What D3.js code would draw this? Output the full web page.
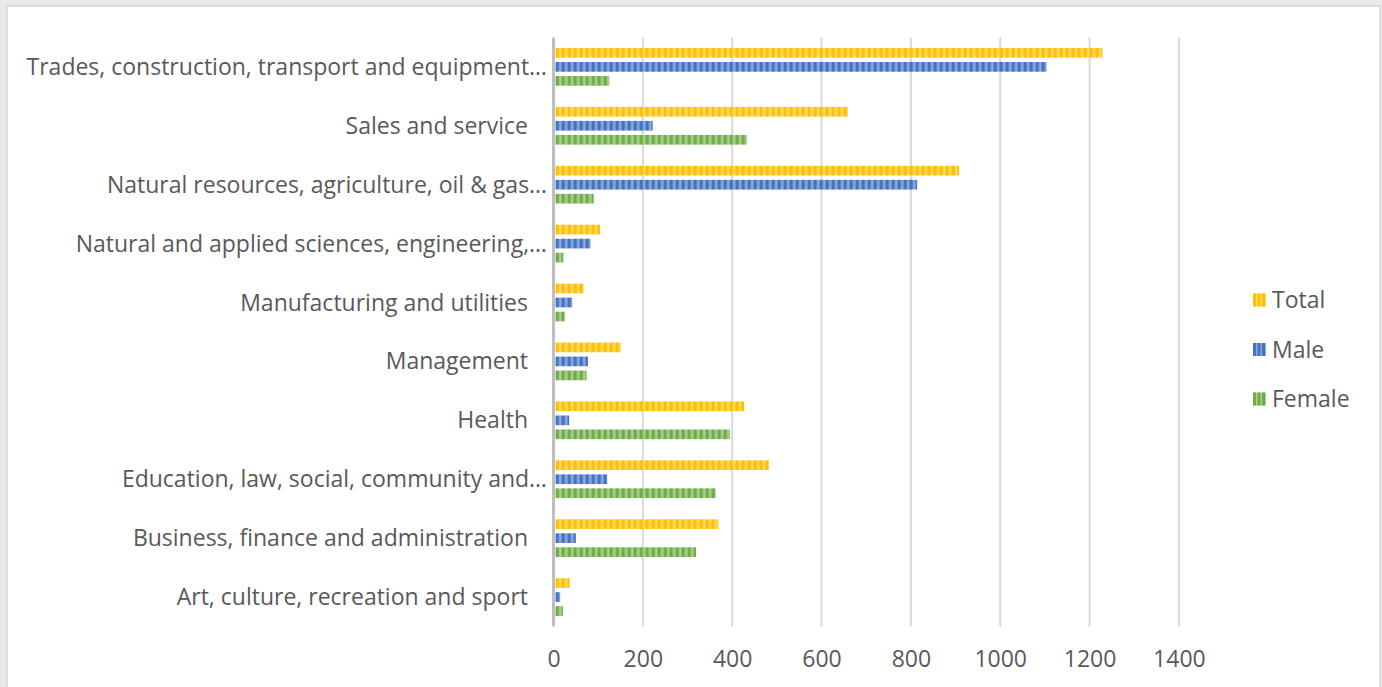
<!DOCTYPE html>
<html>
<head>
<meta charset="utf-8">
<script src="https://cdn.jsdelivr.net/npm/d3@7"></script>
<style>
  html, body { margin: 0; padding: 0; background: #e8e9eb; }
  svg { display: block; }
</style>
</head>
<body>
<svg id="chart" width="1382" height="687"></svg>
<script>
// ---- Data ----
const categories = [
  "Trades, construction, transport and equipment…",
  "Sales and service",
  "Natural resources, agriculture, oil & gas…",
  "Natural and applied sciences, engineering,…",
  "Manufacturing and utilities",
  "Management",
  "Health",
  "Education, law, social, community and…",
  "Business, finance and administration",
  "Art, culture, recreation and sport"
];
const seriesNames = ["Total", "Male", "Female"];
const totalValues  = [1229, 659, 908, 104, 67, 151, 427, 482, 369, 36];
const maleValues   = [1104, 222, 814, 83, 42, 77, 35, 120, 50, 15];
const femaleValues = [125, 433, 90, 22, 25, 74, 395, 363, 319, 21];
const xTicks = [0, 200, 400, 600, 800, 1000, 1200, 1400];

const seriesValues = { Total: totalValues, Male: maleValues, Female: femaleValues };
const colors = {
  Total:  { dark: "#FFC000", light: "#FFDA66" },
  Male:   { dark: "#4472C4", light: "#8EAADB" },
  Female: { dark: "#70AD47", light: "#A9CF91" }
};

const svg = d3.select("#chart");
const W = 1382, H = 687;
const font = "'Open Sans', 'Noto Sans', sans-serif";
const fontSize = 23;
const textColor = "#595959";

// chart frame
svg.append("rect").attr("x", 7).attr("y", 6).attr("width", 1373).attr("height", H + 10)
  .attr("fill", "#ffffff").attr("stroke", "#d6d6d6").attr("stroke-width", 1.5);

// patterns
const defs = svg.append("defs");
seriesNames.forEach(s => {
  const p = defs.append("pattern").attr("id", "pat-" + s)
    .attr("patternUnits", "userSpaceOnUse").attr("width", 6).attr("height", 6)
    .attr("x", 555.5);
  p.append("rect").attr("width", 6).attr("height", 6).attr("fill", colors[s].light);
  p.append("rect").attr("width", 3.4).attr("height", 6).attr("fill", colors[s].dark);
});

// scales
const x = d3.scaleLinear().domain([0, 1400]).range([553.5, 1178.9]);
const y0 = d3.scaleBand().domain(categories).range([37.4, 626.5]).padding(0);
const pad = 10.6;
const y1 = d3.scaleBand().domain(seriesNames).range([pad, y0.bandwidth() - pad]).paddingInner(0.307).paddingOuter(0);

// gridlines
svg.append("g").selectAll("line").data(xTicks.filter(t => t > 0)).join("line")
  .attr("x1", d => x(d)).attr("x2", d => x(d))
  .attr("y1", 37.4).attr("y2", 626.5)
  .attr("stroke", "#d9d9d9").attr("stroke-width", 2);

// bars
const groups = svg.append("g").selectAll("g").data(categories).join("g")
  .attr("transform", d => `translate(0,${y0(d)})`);
groups.selectAll("rect").data((c, i) => seriesNames.map(s => ({ s, v: seriesValues[s][i] })))
  .join("rect")
  .attr("x", x(0) + 2)
  .attr("y", d => y1(d.s))
  .attr("width", d => Math.max(0, x(d.v) - x(0) - 2))
  .attr("height", y1.bandwidth())
  .attr("fill", d => `url(#pat-${d.s})`);

// axis line (category axis)
svg.append("line").attr("x1", x(0)).attr("x2", x(0)).attr("y1", 37.4).attr("y2", 626.5)
  .attr("stroke", "#bfbfbf").attr("stroke-width", 3);

// category labels
svg.append("g").selectAll("text").data(categories).join("text")
  .attr("x", d => d.endsWith("…") ? 547 : 528)
  .attr("y", d => y0(d) + y0.bandwidth() / 2)
  .attr("dy", "0.35em")
  .attr("text-anchor", "end")
  .attr("font-family", font).attr("font-size", fontSize).attr("fill", textColor)
  .text(d => d);

// x tick labels
const xAxis = d3.axisBottom(x).tickValues(xTicks).tickSize(0).tickPadding(0).tickFormat(d3.format("d"));
const gx = svg.append("g").attr("transform", "translate(0,651)").call(xAxis);
gx.select(".domain").remove();
gx.selectAll("text").attr("font-family", font).attr("font-size", fontSize).attr("fill", textColor);

// legend
const legend = svg.append("g").selectAll("g").data(seriesNames).join("g")
  .attr("transform", (d, i) => `translate(1253,${300 + i * 49.5})`);
legend.each(function (s) {
  const g = d3.select(this);
  g.append("rect").attr("x", 0).attr("y", -6.5).attr("width", 13).attr("height", 13).attr("fill", colors[s].light);
  [0, 4.5, 9].forEach(o => g.append("rect").attr("x", o).attr("y", -6.5).attr("width", 3).attr("height", 13).attr("fill", colors[s].dark));
  g.append("text").attr("x", 19).attr("y", 0).attr("dy", "0.35em")
    .attr("font-family", font).attr("font-size", fontSize).attr("fill", textColor).text(s);
});
</script>
</body>
</html>
